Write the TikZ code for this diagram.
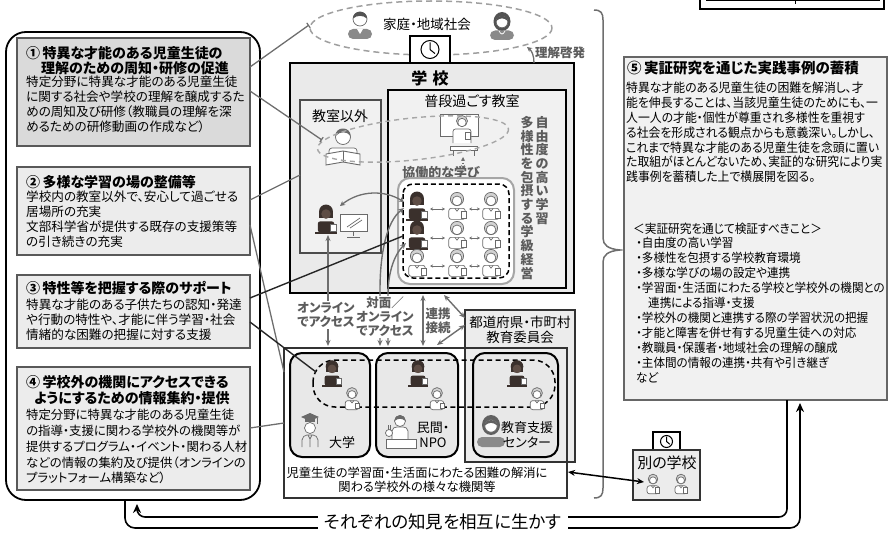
\documentclass[tikz,border=0pt]{standalone}
\usepackage{fontspec}
\setmainfont{Noto Sans CJK JP}[RawFeature={+palt}]
\newfontfamily\jpv{Noto Sans CJK JP}
\newfontfamily\jpn{Noto Sans CJK JP}[RawFeature={+palt}, FakeStretch=0.94]
\usetikzlibrary{arrows.meta}

\newcommand\jfs[2]{\fontsize{#1}{#2}\selectfont}

\definecolor{darkk}{HTML}{3A302C}
\definecolor{facek}{HTML}{5E4D45}
\definecolor{linegray}{HTML}{6E6E6E}
\definecolor{labgray}{HTML}{5C5C5C}
\definecolor{boxfill}{HTML}{ECECEC}
\definecolor{boxfillb}{HTML}{DADADA}
\definecolor{iconline}{HTML}{6A6A6A}
\definecolor{adultg}{HTML}{8A8A8A}
\definecolor{schoolfill}{HTML}{EAEAEA}
\definecolor{roomfill}{HTML}{F1F1F1}

% multi-line text blocks are placed by the baseline of their LAST line
\tikzset{
  txt/.style={inner sep=0pt, anchor=base west, align=left},
  lbl/.style={inner sep=1pt, align=center, text=labgray, font=\bfseries\jfs{12.5}{14}},
  conn/.style={draw=linegray, line width=1.3pt},
  connk/.style={draw=black!85, line width=1.4pt},
  endbar/.style={-{Bar[width=6pt,line width=1.2pt]}},
  garrow/.style={draw=linegray, line width=1.4pt, {Stealth[length=6pt,width=5pt]}-{Stealth[length=6pt,width=5pt]}},
  kl/.style={draw=iconline, line width=0.7pt},
  leftbox/.style={draw=black!65, line width=1.6pt, fill=boxfill},
  pics/lightkid/.style={code={
    \draw[kl, fill=white, rounded corners=2.5pt] (-7.5,18.5) -- (-7.5,8.5) -- (7.5,8.5) -- (7.5,18.5) -- cycle;
    \draw[kl] (-2,8.5) -- (0,11) -- (2,8.5);
    \draw[kl, fill=gray!35] (0,0) circle (6);
    \draw[kl, fill=white] (0,1.7) circle (4.4);
    \draw[kl, fill=white] (3.5,11) rectangle (8.5,17.5);
  }},
  pics/darkkid/.style={code={
    \fill[darkk, rounded corners=2.5pt] (-7.5,18.5) -- (-7.5,8.5) -- (7.5,8.5) -- (7.5,18.5) -- cycle;
    \fill[darkk] (-6.3,5) rectangle (6.3,-1);
    \fill[darkk] (0,-0.5) circle (6.3);
    \fill[facek] (0,1.8) circle (4.3);
    \draw[darkk, line width=1.2pt] (-10,19) -- (10,19);
    \draw[kl, fill=white] (4,11) rectangle (9,17.5);
  }},
  pics/man/.style={code={
    \fill[adultg, rounded corners=5pt] (-12,20) -- (-12,10) -- (12,10) -- (12,20) -- cycle;
    \fill[white] (-3,10) -- (0,15) -- (3,10) -- cycle;
    \draw[kl, fill=white] (0,0) circle (7);
    \fill[adultg!60!black] (-7,-0.5) .. controls (-7,-9.5) and (7,-9.5) .. (7,-0.5) .. controls (3,-4) and (-3,-4) .. cycle;
  }},
  pics/woman/.style={code={
    \fill[adultg!60!black] (0,1.5) ellipse (8.5 and 9.5);
    \fill[adultg, rounded corners=5pt] (-12,20) -- (-12,10.5) -- (12,10.5) -- (12,20) -- cycle;
    \draw[kl, fill=white] (0,2) circle (5.8);
    \fill[adultg!60!black] (-5.8,1) .. controls (-5,-6) and (5,-6) .. (5.8,1) .. controls (2,-2.5) and (-2,-2.5) .. cycle;
    \draw[white, line width=0.7pt] (-3,11) .. controls (-1,15) and (1,15) .. (3,11);
  }},
  pics/clock/.style={code={
    \draw[line width=1pt] (0,0) circle (#1);
    \draw[line width=1pt] (0,0) -- (0,-0.8*#1) (0,0) -- (0.55*#1,0.45*#1);
  }},
}

\begin{document}
\begin{tikzpicture}[x=1pt,y=-1pt]
\useasboundingbox (0,0) rectangle (889,535);

% ---------- left column: measures 1 to 4 ----------
\draw[line width=1.8pt, rounded corners=20pt] (6,32) rectangle (260,500);

\draw[leftbox, fill=boxfillb] (17,38) rectangle (250,146);
\node[txt, font=\bfseries\jfs{14}{15}] (t1) at (26,73.3)
  {①\,特異な才能のある児童生徒の\\\hspace*{15pt}理解のための周知・研修の促進};
\node[txt, font=\jfs{12.6}{15}] (b1) at (26,131.9)
  {特定分野に特異な才能のある児童生徒\\に関する社会や学校の理解を醸成するた\\めの周知及び研修（教職員の理解を深\\めるための研修動画の作成など）};

\draw[leftbox] (17,167) rectangle (250,255);
\node[txt, font=\bfseries\jfs{14}{15}] (t2) at (26,187.3) {②\,多様な学習の場の整備等};
\node[txt, font=\jfs{12.6}{15}] (b2) at (26,246.9)
  {学校内の教室以外で、安心して過ごせる\\居場所の充実\\文部科学省が提供する既存の支援策等\\の引き続きの充実};

\draw[leftbox] (17,275) rectangle (250,348);
\node[txt, font=\bfseries\jfs{14}{15}] (t3) at (26,293.3) {③\,特性等を把握する際のサポート};
\node[txt, font=\jfs{12.6}{15}] (b3) at (26,339.9)
  {特異な才能のある子供たちの認知・発達\\や行動の特性や、才能に伴う学習・社会\\情緒的な困難の把握に対する支援};

\draw[leftbox] (17,367) rectangle (250,490);
\node[txt, font=\bfseries\jfs{14}{16}] (t4) at (26,403.3)
  {④\,学校外の機関にアクセスできる\\\hspace*{8pt}ようにするための情報集約・提供};
\node[txt, font=\jfs{12.4}{15.75}] (b4) at (26,482.9)
  {特定分野に特異な才能のある児童生徒\\の指導・支援に関わる学校外の機関等が\\提供するプログラム・イベント・関わる人材\\などの情報の集約及び提供（オンラインの\\プラットフォーム構築など）};

% ---------- family and community ----------
\draw[draw=gray!75, line width=1.5pt, dash pattern=on 6pt off 4pt] (431,28) ellipse (121 and 27);
\pic at (360,19) {man};
\pic at (502,20) {woman};
\node[inner sep=0pt, font=\jfs{13.5}{14}] (home) at (427,24) {家庭・地域社会};

% ---------- school ----------
\draw[line width=2pt, fill=schoolfill] (290,63) rectangle (574,293);
\draw[line width=1.6pt, fill=white] (410,36) rectangle (450,63);
\pic at (430,49.5) {clock=9};
\node[inner sep=0pt, font=\bfseries\jfs{16}{16}] (school) at (430,78) {学\,\,校};

\draw[draw=black!70, line width=1.5pt, fill=roomfill] (300,100) rectangle (381,253);
\node[inner sep=0pt, font=\jfs{14}{14}] (other) at (340,116) {教室以外};

\draw[line width=2pt, fill=roomfill] (388,90) rectangle (566,288);
\node[inner sep=0pt, font=\jfs{14}{14}] (usual) at (472,101) {普段過ごす教室};

% vertical captions
\node[inner sep=0pt, anchor=north, align=center, text=labgray, font=\jpv\bfseries\jfs{13}{13.7}] (v1) at (542,116)
  {自\\由\\度\\の\\高\\い\\学\\習};
\node[inner sep=0pt, anchor=north, align=center, text=labgray, font=\jpv\bfseries\jfs{13}{13.7}] (v2) at (527,116)
  {多\\様\\性\\を\\包\\摂\\す\\る\\学\\級\\経\\営};

% teacher at the board
\draw[kl, line width=1pt, fill=white] (440,114) rectangle (478,136);
\draw[kl, fill=white, rounded corners=2.5pt] (453,143) -- (453,129) -- (471,129) -- (471,143);
\draw[kl, fill=gray!35] (462,121) circle (5.5);
\draw[kl, fill=white] (462,122.5) circle (4.2);
\draw[kl, fill=white] (465,132) rectangle (470,139);
\draw[kl, line width=1pt, fill=white] (450,146) rectangle (477,150);
\draw[kl, line width=1pt] (453,150) -- (453,156) (474,150) -- (474,156);
\draw[draw=linegray, line width=1.2pt, dotted, {Stealth[length=4pt,width=4pt]}-{Stealth[length=4pt,width=4pt]}] (463,157) -- (463,169);

% student reading outside the classroom
\draw[kl, fill=white, rounded corners=3pt] (329,160) -- (329,148) -- (357,148) -- (357,160);
\draw[kl, fill=white] (343,137) circle (7.5);
\fill[iconline] (335.5,136) .. controls (335,126) and (351,126) .. (350.5,136) .. controls (347,131) and (340,131) .. cycle;
\draw[kl, line width=0.9pt, fill=white] (326,154) -- (343,151) -- (360,154) -- (360,165) -- (343,162) -- (326,165) -- cycle;
\draw[kl] (343,151) -- (343,162);

% dashed ring around the board and the reader
\draw[draw=gray!70, line width=1.4pt, dash pattern=on 5pt off 4pt, rotate around={6:(413,139)}] (413,139) ellipse (96 and 21);

% student at a computer
\pic[scale=1.1] at (326,212) {darkkid};
\draw[kl, line width=1pt, fill=white] (340,214) rectangle (367,231);
\draw[kl] (347,227) -- (360,218) (350,228) -- (362,220);
\draw[kl, line width=1pt] (353.5,231) -- (353.5,236) (347,237) -- (360,237);

% collaborative learning group
\node[inner sep=0pt, text=labgray, font=\bfseries\jfs{13}{13}] (collab) at (441,173) {協働的な学び};
\draw[draw=gray!70, line width=2pt, rounded corners=12pt, fill=white] (398,178) rectangle (514,284);
\draw[line width=1.5pt, dash pattern=on 5pt off 3pt, rounded corners=10pt] (403,184) rectangle (509,278);
\foreach \y in {199,228,256} {
  \draw[draw=linegray, line width=1pt, {Stealth[length=3pt,width=3pt]}-{Stealth[length=3pt,width=3pt]}] (430,\y+10) -- (445,\y+10);
  \draw[draw=linegray, line width=1pt, {Stealth[length=3pt,width=3pt]}-{Stealth[length=3pt,width=3pt]}] (469,\y+10) -- (480,\y+10);
  \pic[scale=1.1] at (457,\y) {lightkid};
  \pic[scale=1.1] at (491,\y) {lightkid};
}
\pic[scale=1.1] at (417,199) {darkkid};
\pic[scale=1.1] at (417,228) {darkkid};
\pic[scale=1.1] at (417,256) {lightkid};
\draw[draw=linegray, line width=1.3pt, {Stealth[length=5pt,width=5pt]}-{Stealth[length=5pt,width=5pt]}] (340,206) .. controls (360,190) and (385,190) .. (404,202);

% ---------- outside organisations ----------
\draw[draw=black!80, line width=1.5pt, fill=white] (284,348) rectangle (567,498);
\draw[draw=black!80, line width=1.5pt, fill=boxfill] (465,310) rectangle (575,462);
\draw[draw=black!80, line width=1.5pt] (284,348) rectangle (567,498);
\node[inner sep=0pt, align=center, font=\jfs{13.5}{15}] (board) at (520,330) {都道府県・市町村\\教育委員会};

\draw[line width=2pt, rounded corners=12pt, fill=gray!18] (290,353) rectangle (370,457);
\draw[line width=2pt, rounded corners=12pt, fill=gray!18] (376,353) rectangle (458,457);
\draw[line width=2pt, rounded corners=12pt, fill=gray!18] (473,353) rectangle (558,457);

\draw[line width=1.5pt, dash pattern=on 5pt off 3.5pt, rounded corners=22pt] (313,360) rectangle (555,407);
\pic at (332,367) {darkkid};
\pic at (418,367) {darkkid};
\pic at (517,367) {darkkid};
\pic[scale=0.9] at (352,393) {lightkid};
\pic[scale=0.9] at (437,393) {lightkid};
\pic[scale=0.9] at (537,393) {lightkid};

% university
\fill[iconline] (301,417) -- (310,413) -- (319,417) -- (310,421) -- cycle;
\fill[iconline] (305,418) rectangle (315,422);
\draw[iconline, line width=0.8pt] (317,417.5) -- (317,424);
\draw[kl, fill=white] (310,428) circle (5.5);
\draw[kl] (302,447) -- (302,440) .. controls (302,437) and (305,435) .. (307,435) -- (313,435) .. controls (315,435) and (318,437) .. (318,440) -- (318,447);
\draw[kl] (308,435) -- (310,439) -- (312,435) (310,439) -- (310,447);
\node[inner sep=0pt, font=\jfs{13}{13}] (univ) at (342,443) {大学};

% private sector
\draw[kl, fill=white] (400,421) circle (5.5);
\fill[iconline] (394.5,421) .. controls (395,413) and (405,413) .. (405.5,421) .. controls (402,418) and (398,418) .. cycle;
\draw[kl, fill=white] (392,439) -- (392,431) .. controls (392,428) and (395,427) .. (397,427) -- (403,427) .. controls (405,427) and (408,428) .. (408,431) -- (408,439);
\draw[kl, fill=white] (389,433) circle (3.5);
\draw[kl] (388,429.6) -- (388,425) (390,429.6) -- (390,425);
\draw[kl, line width=0.9pt, fill=white] (386,439) rectangle (416,448);
\node[inner sep=0pt, align=center, font=\jfs{13}{15.5}] (npo) at (433,435) {民間・\\NPO};

% support centre
\fill[adultg!70!black] (491,425) ellipse (9 and 10);
\fill[adultg, rounded corners=5pt] (477,447) -- (477,437) -- (505,437) -- (505,447) -- cycle;
\draw[kl, fill=white] (491,426) circle (6.2);
\fill[adultg!70!black] (484.8,425.5) .. controls (486,418) and (496,418) .. (497.2,425.5) .. controls (493,422) and (489,422) .. cycle;
\node[inner sep=0pt, align=center, font=\jfs{13}{15.5}] (centre) at (527,435) {教育支援\\センター};

\node[inner sep=0pt, align=center, font=\jfs{12.3}{14}] (orgs) at (417,480)
  {児童生徒の学習面・生活面にわたる困難の解消に\\関わる学校外の様々な機関等};

% ---------- access arrows ----------
\draw[garrow] (328,235) -- (328,346);
\draw[garrow] (404,208) .. controls (386,222) and (380,255) .. (380,290) -- (380,346);
\draw[garrow] (406,243) .. controls (393,256) and (388,275) .. (388,295) -- (388,346);
\draw[garrow] (423,295) -- (423,346);
\node[lbl, fill=white] (online) at (326,315) {オンライン\\でアクセス};
\node[lbl, fill=white] (f2f) at (385,317) {対面／\\オンライン\\でアクセス};
\node[lbl, fill=white] (link) at (438,321) {連携\\接続};
\draw[garrow] (444,295) -- (465,318);
\draw[garrow] (437,345) -- (465,325);

% understanding arrow toward the community
\draw[draw=linegray, line width=1.3pt, -{Stealth[length=5pt,width=5pt]}] (534,63) .. controls (534,56) and (532,51) .. (527,47);
\node[inner sep=0pt, text=labgray, font=\bfseries\jfs{12.5}{13}] (keihatsu) at (560,53) {理解啓発};

% ---------- connectors from the measures ----------
\coordinate (c1a) at (250,67);   \coordinate (c1b) at (309,25);
\coordinate (c2a) at (250,91);   \coordinate (c2b) at (322,140);
\coordinate (c3a) at (250,200);  \coordinate (c3b) at (300,175);
\coordinate (c4a) at (250,225);  \coordinate (c4b) at (284,372);
\coordinate (c5a) at (250,298);  \coordinate (c5b) at (403,236);
\coordinate (c6a) at (250,322);  \coordinate (c6b) at (316,372);
\coordinate (c7a) at (250,428);  \coordinate (c7b) at (284,423);
\draw[conn, endbar] (c1a) -- (c1b);
\draw[conn, endbar] (c2a) -- (c2b);
\draw[conn] (c3a) -- (c3b);
\draw[conn] (c4a) -- (c4b);
\draw[connk] (c5a) -- (c5b);
\draw[connk] (c6a) -- (c6b);
\draw[conn] (c7a) -- (c7b);

% ---------- right side ----------
\draw[draw=linegray, line width=1.5pt] (594,10) .. controls (601,10) and (603,13) .. (603,20) -- (603,238)
  .. controls (603,245) and (608,249) .. (620,250) .. controls (608,251) and (603,255) .. (603,262)
  -- (603,488) .. controls (603,495) and (601,498) .. (594,498);

\draw[draw=black!60, line width=1.5pt, fill=roomfill] (624,57) rectangle (887,400);
\node[txt, font=\bfseries\jfs{14.5}{15}] (t5) at (627,73.5) {⑤\,実証研究を通じた実践事例の蓄積};
\node[txt, font=\jpn\jfs{12.6}{14.8}] (b5) at (626,181.6)
  {特異な才能のある児童生徒の困難を解消し、才\\能を伸長することは、当該児童生徒のためにも、一\\人一人の才能・個性が尊重され多様性を重視す\\る社会を形成される観点からも意義深い。しかし、\\これまで特異な才能のある児童生徒を念頭に置い\\た取組がほとんどないため、実証的な研究により実\\践事例を蓄積した上で横展開を図る。};
\node[txt, font=\jpn\jfs{12.4}{15}] (h5) at (633,233.8) {＜実証研究を通じて検証すべきこと＞};
\node[txt, font=\jpn\jfs{12.3}{15}] (l5) at (636,382.8)
  {・自由度の高い学習\\・多様性を包摂する学校教育環境\\・多様な学びの場の設定や連携\\・学習面・生活面にわたる学校と学校外の機関との\\\hspace*{12pt}連携による指導・支援\\・学校外の機関と連携する際の学習状況の把握\\・才能と障害を併せ有する児童生徒への対応\\・教職員・保護者・地域社会の理解の醸成\\・主体間の情報の連携・共有や引き継ぎ\\など};

% another school
\draw[line width=1.5pt, fill=white] (653,432) rectangle (680,450);
\pic at (666.5,441.5) {clock=6};
\draw[draw=black!80, line width=1.5pt, fill=boxfill] (633,450) rectangle (700,500);
\node[inner sep=0pt, font=\jfs{15}{15}] (other school) at (667,463) {別の学校};
\pic[scale=0.8] at (653,479) {lightkid};
\pic[scale=0.8] at (681,479) {lightkid};
\coordinate (os) at (644,482);
\coordinate (oi) at (568,472);
\draw[line width=1.5pt, {Stealth[length=7pt,width=6pt]}-{Stealth[length=7pt,width=6pt]}] (oi) -- (os);

% ---------- mutual feedback loop ----------
\draw[line width=1.6pt, rounded corners=10pt, -{Stealth[length=9pt,width=8pt]}] (125,500) -- (125,528) -- (800,528) -- (800,403);
\draw[line width=1.6pt, rounded corners=8pt, -{Stealth[length=9pt,width=8pt]}] (787,400) -- (787,517) -- (137,517) -- (137,504);
\node[fill=white, inner xsep=6pt, inner ysep=1pt, font=\jfs{17.5}{18}] (mutual) at (443,522) {それぞれの知見を相互に生かす};

% ---------- legend edge at the top ----------
\draw[line width=1.2pt, fill=white] (700,-4) rectangle (884,9);
\draw[line width=1pt] (706,1) -- (880,1);
\draw[line width=1pt] (795,-2) -- (795,4);
\end{tikzpicture}
\end{document}
